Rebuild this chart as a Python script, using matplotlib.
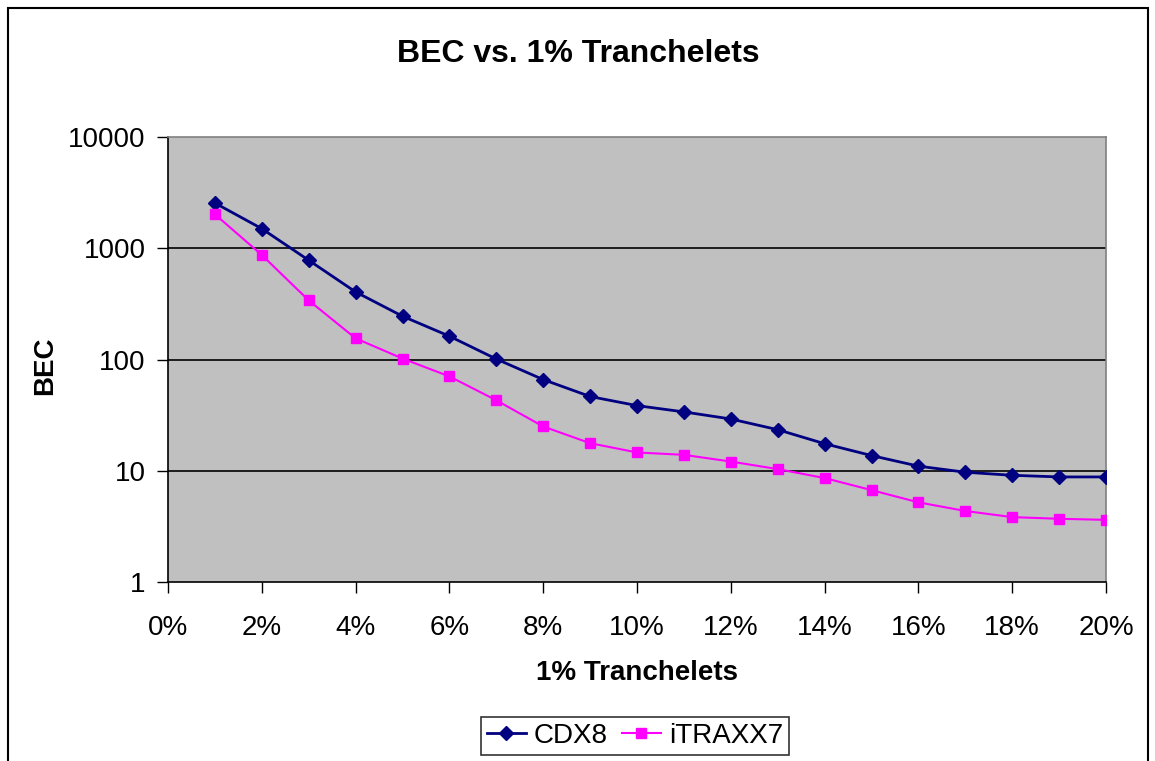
import numpy as np
import matplotlib
matplotlib.use('Agg')
import matplotlib.pyplot as plt
from matplotlib.patches import Rectangle
from matplotlib.ticker import FixedLocator, FuncFormatter, NullLocator

plt.rcParams['font.family'] = ['Liberation Sans', 'DejaVu Sans']

# data
tranche = [1, 2, 3, 4, 5, 6, 7, 8, 9, 10, 11, 12, 13, 14, 15, 16, 17, 18, 19, 20]
cdx8 = [2550, 1500, 780, 405, 245, 162, 101, 66, 46.5, 38.5, 33.8, 29.2,
        23.4, 17.5, 13.7, 11.0, 9.7, 9.1, 8.8, 8.8]
itraxx7 = [2020, 870, 340, 155, 102, 70.5, 43, 25.0, 17.7, 14.6, 13.9, 12.1,
           10.35, 8.6, 6.7, 5.2, 4.35, 3.83, 3.7, 3.62]
x_ticks = [0, 2, 4, 6, 8, 10, 12, 14, 16, 18, 20]
y_ticks = [1, 10, 100, 1000, 10000]

W, H = 1155, 761
fig = plt.figure(figsize=(W / 100, H / 100), dpi=100)
fig.subplots_adjust(left=168 / W, right=1106 / W, bottom=1 - 582 / H, top=1 - 137 / H)
ax = fig.add_subplot(111)

# outer chart border (bottom runs off the image)
fig.patches.append(Rectangle((8 / W, -0.05), 1140 / W, 1.05 - 8 / H, transform=fig.transFigure,
                             fill=False, edgecolor='black', linewidth=1.5))

ax.set_facecolor('#c0c0c0')
ax.plot(tranche, cdx8, color='#000080', marker='D', markersize=7.5, linewidth=2,
        label='CDX8', zorder=3)
ax.plot(tranche, itraxx7, color='#ff00ff', marker='s', markersize=6.5, linewidth=1.5,
        label='iTRAXX7', zorder=3)

ax.set_yscale('log')
ax.set_ylim(1, 10000)
ax.set_xlim(0, 20)
ax.yaxis.set_major_locator(FixedLocator(y_ticks))
ax.yaxis.set_minor_locator(NullLocator())
ax.yaxis.set_major_formatter(FuncFormatter(lambda v, p: '%d' % v))
ax.xaxis.set_major_locator(FixedLocator(x_ticks))
ax.xaxis.set_major_formatter(FuncFormatter(lambda v, p: '%d%%' % v))

for y in [10, 100, 1000]:
    ax.axhline(y, color='black', linewidth=1.2, zorder=1)

ax.spines['top'].set_color('#808080')
ax.spines['right'].set_color('#808080')
ax.spines['left'].set_color('black')
ax.spines['bottom'].set_color('black')
for s in ax.spines.values():
    s.set_linewidth(1.2)

ax.tick_params(axis='both', direction='out', length=8, width=1, labelsize=20)
ax.tick_params(axis='y', pad=8)
ax.tick_params(axis='x', pad=16)

ax.set_xlabel('1% Tranchelets', fontsize=20, fontweight='bold')
ax.xaxis.set_label_coords(0.5, (582 - 673) / 445)
ax.xaxis.label.set_va('center')
ax.set_ylabel('BEC', fontsize=20, fontweight='bold')
ax.yaxis.set_label_coords((45 - 168) / 938, 0.485)
ax.yaxis.label.set_va('center')

fig.text(578 / W, 1 - 54 / H, 'BEC vs. 1% Tranchelets', fontsize=23, fontweight='bold',
         ha='center', va='center')

leg = fig.legend(loc='center', bbox_to_anchor=(635 / W, 1 - 736 / H), ncol=2, fontsize=20,
                 frameon=True, fancybox=False, edgecolor='black', handlelength=1.4,
                 handletextpad=0.3, columnspacing=0.5, borderpad=0.2, borderaxespad=0.2)
leg.get_frame().set_linewidth(1.2)

fig.savefig('out.png', dpi=100)
